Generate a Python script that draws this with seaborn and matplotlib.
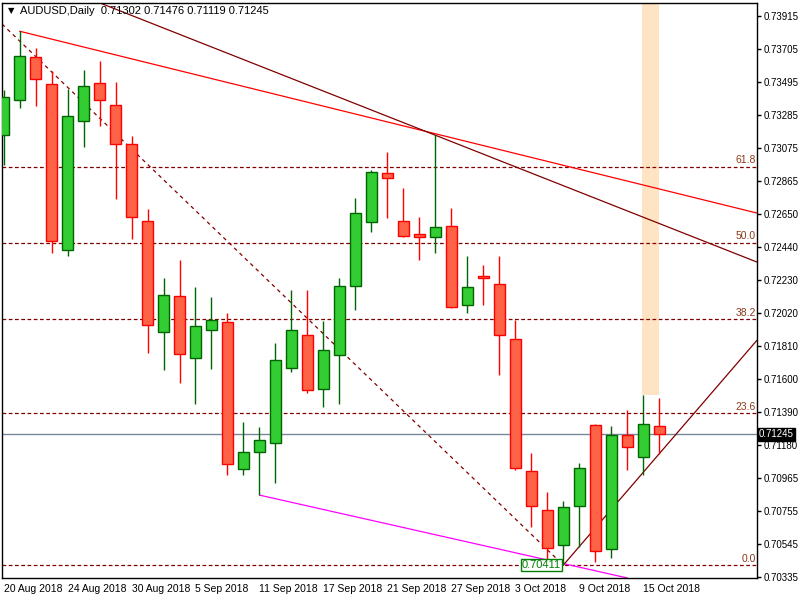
import numpy as np
import pandas as pd
import matplotlib
matplotlib.use("Agg")
import matplotlib.pyplot as plt
import seaborn as sns

# daily AUDUSD candles
opens = [0.73156, 0.73379, 0.73653, 0.73481, 0.72422, 0.73245, 0.73488, 0.73347, 0.73098, 0.72607,
         0.71899, 0.72128, 0.71733, 0.71911, 0.71962, 0.71024, 0.71133, 0.71190, 0.71669, 0.71879,
         0.71535, 0.71752, 0.72192, 0.72601, 0.72913, 0.72607, 0.72524, 0.72505, 0.72575, 0.72071,
         0.72256, 0.72205, 0.71854, 0.71012, 0.70763, 0.70539, 0.70788, 0.71305, 0.70514, 0.71241,
         0.71101, 0.71302]
highs = [0.73443, 0.73819, 0.73711, 0.73564, 0.73449, 0.73570, 0.73628, 0.73494, 0.73149, 0.72684,
         0.72243, 0.72358, 0.72186, 0.72122, 0.72020, 0.71324, 0.71292, 0.71828, 0.72167, 0.72167,
         0.71969, 0.72243, 0.72754, 0.72933, 0.73047, 0.72818, 0.72632, 0.73156, 0.72690, 0.72384,
         0.72326, 0.72384, 0.71975, 0.71127, 0.70878, 0.70820, 0.71063, 0.71312, 0.71299, 0.71401,
         0.71497, 0.71476]
lows = [0.72964, 0.73328, 0.73341, 0.72403, 0.72384, 0.73079, 0.73213, 0.72747, 0.72492, 0.71765,
        0.71656, 0.71573, 0.71439, 0.71662, 0.70986, 0.70986, 0.70858, 0.70935, 0.71643, 0.71509,
        0.71420, 0.71439, 0.72039, 0.72537, 0.72626, 0.72505, 0.72358, 0.72403, 0.72052, 0.72020,
        0.72071, 0.71624, 0.71018, 0.70654, 0.70411, 0.70411, 0.70527, 0.70431, 0.70456, 0.71018,
        0.70986, 0.71119]
closes = [0.73398, 0.73660, 0.73513, 0.72479, 0.73277, 0.73468, 0.73379, 0.73098, 0.72632, 0.71943,
          0.72135, 0.71758, 0.71937, 0.71975, 0.71056, 0.71133, 0.71209, 0.71720, 0.71911, 0.71529,
          0.71784, 0.72192, 0.72658, 0.72920, 0.72881, 0.72511, 0.72505, 0.72569, 0.72058, 0.72186,
          0.72243, 0.71879, 0.71031, 0.70788, 0.70520, 0.70782, 0.71031, 0.70501, 0.71241, 0.71165,
          0.71312, 0.71245]

date_ticks = [0, 4, 8, 12, 16, 20, 24, 28, 32, 36, 40]
date_labels = ["20 Aug 2018", "24 Aug 2018", "30 Aug 2018", "5 Sep 2018", "11 Sep 2018",
               "17 Sep 2018", "21 Sep 2018", "27 Sep 2018", "3 Oct 2018", "9 Oct 2018", "15 Oct 2018"]
price_ticks = [0.73915, 0.73705, 0.73495, 0.73285, 0.73075, 0.72865, 0.72650, 0.72440, 0.72230,
               0.72020, 0.71810, 0.71600, 0.71390, 0.71180, 0.70965, 0.70755, 0.70545, 0.70335]

fib_low, fib_high = 0.70411, 0.74527
fib_levels = [0.0, 23.6, 38.2, 50.0, 61.8]
last_price = 0.71245

# trend lines: (x0, y0, x1, y1) in bar / price units
red_line = [1, 0.73819, 47.125, 0.72658]
dark_line = [6.06, 0.73998, 47.125, 0.72345]
magenta_line = [16, 0.70858, 39, 0.70329]
rise_line = [35, 0.70411, 47.125, 0.71848]
fib_trend = [-0.1, 0.73865, 35, 0.70411]

df = pd.DataFrame({"open": opens, "high": highs, "low": lows, "close": closes})
df["bar"] = np.arange(len(df))
df["up"] = df["close"] >= df["open"]

sns.set_style("white")
plt.rcParams['font.family'] = ['Liberation Sans', 'DejaVu Sans']
fs = 7.5
fig = plt.figure(figsize=(8, 6), dpi=100)
ax = fig.add_axes([0.0025, 0.0367, 0.944, 0.958])
xmin, xmax = -0.1, 47.125
ymin, ymax = 0.70329, 0.73998
ax.set_xlim(xmin, xmax)
ax.set_ylim(ymin, ymax)

# highlight band
ax.fill_between([39.95, 41.0], 0.71497, ymax, color="#FFE4C4", zorder=0, lw=0)

# fib levels
dark_red = "#800000"
for lv in fib_levels:
    p = fib_low + (fib_high - fib_low) * lv / 100
    ax.axhline(p, color=dark_red, ls=(0, (3, 2)), lw=0.9, zorder=1)
    ax.text(xmax - 0.1, p + 0.00008, f"{lv:.1f}", ha="right", va="bottom",
            fontsize=fs, color="#8B3A1A")

ax.axhline(last_price, color="#778899", lw=1, zorder=1)

for ln, col, ls in [(red_line, "#FF0000", "-"), (dark_line, dark_red, "-"),
                    (magenta_line, "#FF00FF", "-"), (rise_line, dark_red, "-"),
                    (fib_trend, dark_red, (0, (3, 3)))]:
    ax.plot([ln[0], ln[2]], [ln[1], ln[3]], color=col, lw=0.9, ls=ls, zorder=2)

# candles
for _, r in df.iterrows():
    fc, ec = ("#32CD32", "#006400") if r["up"] else ("#FF6347", "#FF0000")
    ax.vlines(r["bar"], r["low"], r["high"], color=ec, lw=1, zorder=3)
    lo, hi = min(r["open"], r["close"]), max(r["open"], r["close"])
    ax.bar(r["bar"], max(hi - lo, 0.00002), bottom=lo, width=0.66,
           color=fc, edgecolor=ec, lw=1, zorder=4)

# low label
ax.text(34.85, fib_low + 0.00002, "0.70411", ha="right", va="center", fontsize=fs + 0.5,
        color="#008000", zorder=6,
        bbox=dict(boxstyle="square,pad=0.1", fc="white", ec="#008000", lw=1))

ax.text(1.0, 0.7395, "AUDUSD,Daily  0.71302 0.71476 0.71119 0.71245", fontsize=fs + 0.5,
        va="center", ha="left", color="black")
ax.text(0.25, 0.7395, "▼", fontsize=6, va="center", ha="left", color="black",
        family="DejaVu Sans")

ax.yaxis.tick_right()
ax.set_yticks(price_ticks)
ax.set_yticklabels([f"{p:.5f}" for p in price_ticks], fontsize=7)
ax.set_xticks(date_ticks)
ax.set_xticklabels(date_labels, fontsize=fs, ha="left")
ax.tick_params(axis="both", direction="out", length=3, width=1, pad=1.5, colors="black")
for s in ax.spines.values():
    s.set_color("black")
    s.set_linewidth(1)

ax.text(1.002, (last_price - ymin) / (ymax - ymin), f"{last_price:.5f}", transform=ax.transAxes,
        fontsize=7, color="white", va="center", ha="left", zorder=10, clip_on=False,
        bbox=dict(boxstyle="square,pad=0.12", fc="black", ec="black"))

fig.savefig("out.png", dpi=100)
